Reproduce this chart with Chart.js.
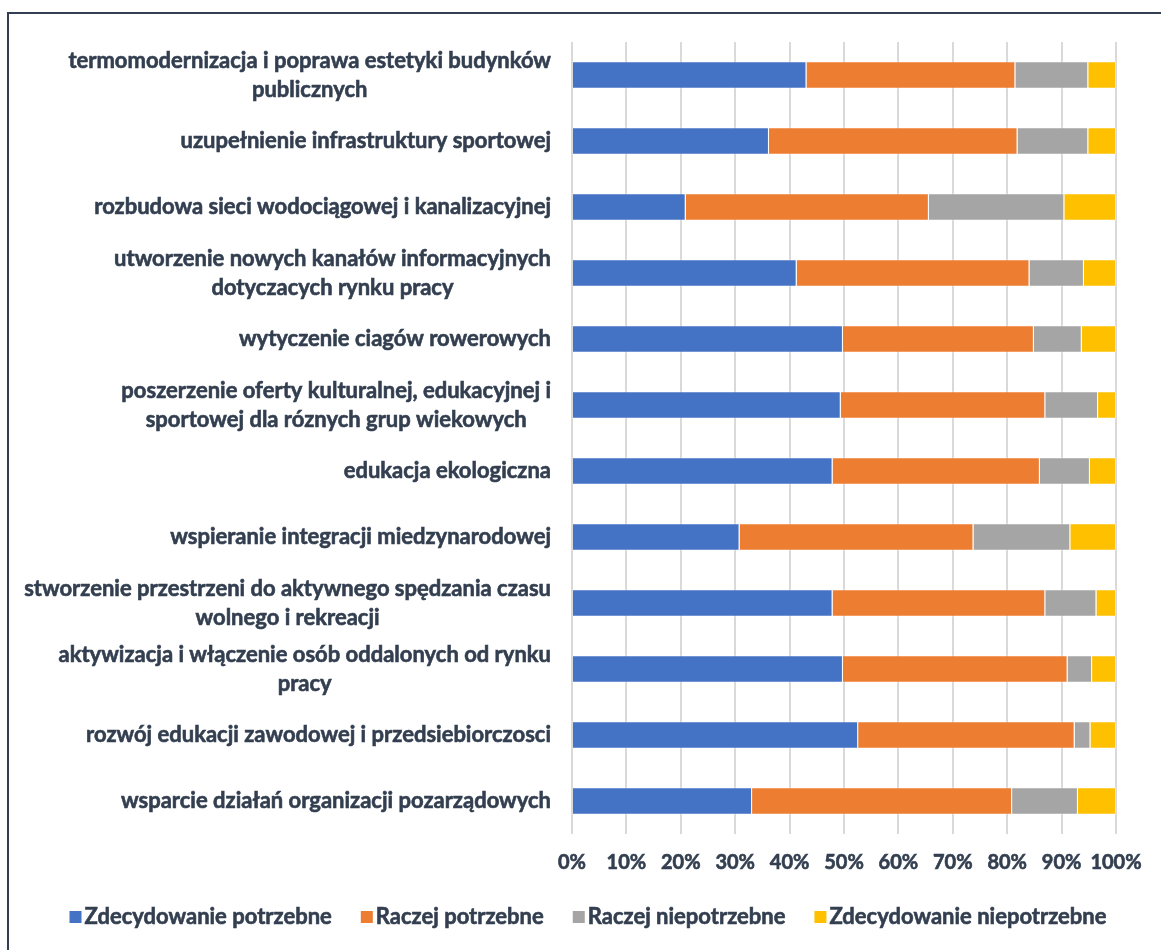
<!DOCTYPE html>
<html>
<head>
<meta charset="utf-8">
<script src="https://cdn.jsdelivr.net/npm/chart.js@4"></script>
<style>
  html, body { margin: 0; padding: 0; background: #fff; }
  #wrap { position: relative; width: 1161px; height: 950px; }
  #frame { position: absolute; left: 7px; top: 12px; right: -10px; bottom: -10px; border-left: 2px solid #333f50; border-top: 2px solid #333f50; }
  canvas { position: absolute; left: 0; top: 0; }
</style>
</head>
<body>
<div id="wrap">
  <div id="frame"></div>
  <canvas id="chart" width="1161" height="950"></canvas>
</div>
<script>
// kategorie (od góry)
var categories = [
  ['termomodernizacja i poprawa estetyki budynków', 'publicznych'],
  'uzupełnienie infrastruktury sportowej',
  'rozbudowa sieci wodociągowej i kanalizacyjnej',
  ['utworzenie nowych kanałów informacyjnych', 'dotyczacych rynku pracy'],
  'wytyczenie ciagów rowerowych',
  ['poszerzenie oferty kulturalnej, edukacyjnej i', 'sportowej dla róznych grup wiekowych'],
  'edukacja ekologiczna',
  'wspieranie integracji miedzynarodowej',
  ['stworzenie przestrzeni do aktywnego spędzania czasu', 'wolnego i rekreacji'],
  ['aktywizacja i włączenie osób oddalonych od rynku', 'pracy'],
  'rozwój edukacji zawodowej i przedsiebiorczosci',
  'wsparcie działań organizacji pozarządowych'
];

var seriesNames = ['Zdecydowanie potrzebne', 'Raczej potrzebne', 'Raczej niepotrzebne', 'Zdecydowanie niepotrzebne'];
var seriesColors = ['#4472c4', '#ed7d31', '#a5a5a5', '#ffc000'];

// wartości w %
var zdecydowaniePotrzebne    = [43.1, 36.2, 20.9, 41.3, 49.8, 49.4, 47.9, 30.8, 47.9, 49.8, 52.6, 33.1];
var raczejPotrzebne          = [38.4, 45.7, 44.7, 42.8, 35.1, 37.6, 38.1, 43.0, 39.1, 41.3, 39.8, 47.8];
var raczejNiepotrzebne       = [13.4, 13.0, 24.9, 10.0,  8.8,  9.7,  9.2, 17.8,  9.4,  4.5,  2.9, 12.1];
var zdecydowanieNiepotrzebne = [ 5.1,  5.1,  9.5,  5.9,  6.3,  3.3,  4.8,  8.4,  3.6,  4.4,  4.7,  7.0];

var xTicks = [0, 10, 20, 30, 40, 50, 60, 70, 80, 90, 100];

var textColor = '#333f50';
var fontFamily = 'Lato, "Open Sans", sans-serif';

var seriesValues = [zdecydowaniePotrzebne, raczejPotrzebne, raczejNiepotrzebne, zdecydowanieNiepotrzebne];
var datasets = seriesNames.map(function(name, i) {
  return {
    label: name,
    data: seriesValues[i],
    backgroundColor: seriesColors[i],
    borderColor: 'rgba(255,255,255,0.35)',
    borderWidth: 1,
    barPercentage: 0.42,
    categoryPercentage: 1
  };
});

function boldText(ctx, txt, x, y) {
  ctx.fillText(txt, x, y);
  ctx.strokeText(txt, x, y);
}

// etykiety kategorii: blok wyrównany do prawej, linie wyśrodkowane
var categoryLabels = {
  id: 'categoryLabels',
  afterDraw: function(chart) {
    var ctx = chart.ctx, yScale = chart.scales.y;
    var right = chart.chartArea.left - 21, lineH = 29;
    ctx.save();
    ctx.font = 'bold 22px ' + fontFamily;
    ctx.fillStyle = textColor;
    ctx.strokeStyle = textColor;
    ctx.lineWidth = 0.6;
    ctx.textAlign = 'center';
    ctx.textBaseline = 'middle';
    categories.forEach(function(label, i) {
      var lines = Array.isArray(label) ? label : [label];
      var w = 0;
      lines.forEach(function(l) { w = Math.max(w, ctx.measureText(l).width); });
      var cx = right - w / 2;
      var y0 = yScale.getPixelForValue(i) - (lines.length - 1) * lineH / 2;
      lines.forEach(function(l, k) { boldText(ctx, l, cx, y0 + k * lineH); });
    });
    ctx.restore();
  }
};

// legenda rysowana ręcznie (mały odstęp kwadrat-tekst)
var bottomLegend = {
  id: 'bottomLegend',
  afterDraw: function(chart) {
    var ctx = chart.ctx;
    var y = chart.chartArea.bottom + 83, box = 12, gapText = 3, gapItem = 29;
    ctx.save();
    ctx.font = 'bold 22px ' + fontFamily;
    ctx.textBaseline = 'middle';
    ctx.textAlign = 'left';
    ctx.lineWidth = 0.6;
    var widths = seriesNames.map(function(n) { return ctx.measureText(n).width; });
    var total = 0;
    widths.forEach(function(w, i) { total += box + gapText + w + (i ? gapItem : 0); });
    var x = 588 - total / 2;
    seriesNames.forEach(function(n, i) {
      ctx.fillStyle = seriesColors[i];
      ctx.fillRect(x, y - box / 2, box, box);
      ctx.fillStyle = textColor;
      ctx.strokeStyle = textColor;
      boldText(ctx, n, x + box + gapText, y);
      x += box + gapText + widths[i] + gapItem;
    });
    ctx.restore();
  }
};

new Chart(document.getElementById('chart'), {
  type: 'bar',
  data: { labels: categories, datasets: datasets },
  options: {
    indexAxis: 'y',
    responsive: false,
    animation: false,
    layout: { padding: { left: 7, right: 45, top: 42, bottom: 58 } },
    scales: {
      x: {
        stacked: true,
        min: 0,
        max: 100,
        afterBuildTicks: function(s) { s.ticks = xTicks.map(function(v) { return { value: v }; }); },
        afterFit: function(s) { s.height = 58; },
        grid: { color: '#d9d9d9', lineWidth: 2, drawTicks: false },
        border: { display: false },
        ticks: {
          padding: 17,
          maxRotation: 0,
          autoSkip: false,
          color: textColor,
          textStrokeColor: textColor,
          textStrokeWidth: 0.6,
          font: { family: fontFamily, size: 20, weight: 'bold' },
          callback: function(v) { return v + '%'; }
        }
      },
      y: {
        stacked: true,
        grid: { display: false },
        border: { display: false },
        ticks: { display: false },
        afterFit: function(s) { s.width = 565; }
      }
    },
    plugins: {
      legend: { display: false },
      tooltip: { enabled: false }
    }
  },
  plugins: [categoryLabels, bottomLegend]
});
</script>
</body>
</html>
